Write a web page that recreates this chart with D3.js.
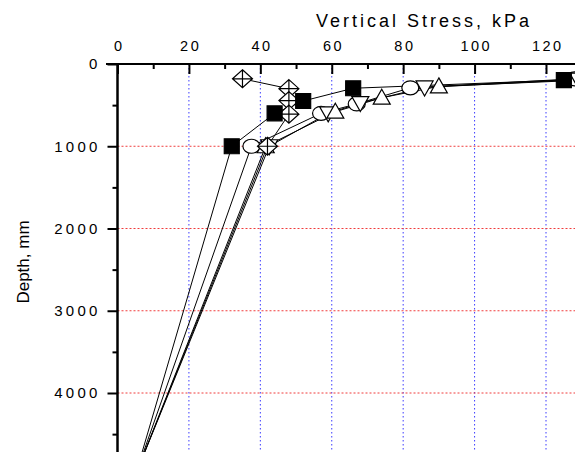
<!DOCTYPE html>
<html>
<head>
<meta charset="utf-8">
<script src="https://cdn.jsdelivr.net/npm/d3@7"></script>
<style>
  body { margin: 0; background: #fff; }
  text { font-family: Arial, "Liberation Sans", sans-serif; fill: #000; }
</style>
</head>
<body>
<div id="chart"></div>
<script>
// stress (kPa) against depth (mm), one list per gauge line
const squares    = [[125, 195], [66, 295], [52, 450], [44, 600], [32, 1000], [5, 5000]];
const circles    = [[128, 180], [82, 290], [67, 485], [57, 600], [37.5, 1000], [5, 5000]];
const trianglesU = [[131, 195], [90, 272], [74, 410], [61, 580], [41.5, 1000], [5, 5000]];
const trianglesD = [[129, 190], [86, 285], [68, 475], [59, 600], [42.5, 1000], [5, 5000]];
const diamonds   = [[35, 180], [48, 300], [48, 445], [48, 610], [42, 1000], [5, 5000]];

const xMajor = [0, 20, 40, 60, 80, 100, 120];
const xMinor = [10, 30, 50, 70, 90, 110, 130];
const yMajor = [0, 1000, 2000, 3000, 4000];
const yMinor = [500, 1500, 2500, 3500, 4500];

const W = 575, H = 452;

const svg = d3.select("#chart").append("svg")
    .attr("width", W)
    .attr("height", H);

const x = d3.scaleLinear().domain([0, 120]).range([117.5, 546]);
const y = d3.scaleLinear().domain([0, 4000]).range([64, 393]);

// grid
svg.append("g").selectAll("line")
    .data(xMajor.filter(d => d > 0))
    .enter().append("line")
    .attr("x1", d => x(d)).attr("x2", d => x(d))
    .attr("y1", y(0)).attr("y2", H)
    .attr("stroke", "#3b3bff")
    .attr("stroke-width", 1)
    .attr("stroke-dasharray", "1.5,2.5");

svg.append("g").selectAll("line")
    .data(yMajor.filter(d => d > 0))
    .enter().append("line")
    .attr("x1", x(0)).attr("x2", W)
    .attr("y1", d => y(d)).attr("y2", d => y(d))
    .attr("stroke", "#f03c3c")
    .attr("stroke-width", 1)
    .attr("stroke-dasharray", "2,2");

// axes
const xAxis = svg.append("g")
    .attr("transform", `translate(0,${y(0)})`)
    .call(d3.axisTop(x).tickValues(xMajor).tickSize(-10).tickPadding(13));
xAxis.append("g")
    .call(d3.axisTop(x).tickValues(xMinor).tickSize(-5).tickFormat(""));

const yAxis = svg.append("g")
    .attr("transform", `translate(${x(0)},0)`)
    .call(d3.axisLeft(y).tickValues(yMajor).tickSize(10).tickPadding(10).tickFormat(d3.format("d")));
yAxis.append("g")
    .call(d3.axisLeft(y).tickValues(yMinor).tickSize(5).tickFormat(""));

svg.selectAll(".domain").remove();
svg.selectAll(".tick line").attr("stroke", "#000").attr("stroke-width", 2);

xAxis.selectAll(".tick text")
    .attr("font-size", 14.5)
    .attr("letter-spacing", 2.5)
    .attr("dx", 1.25)
    .attr("font-family", "Arial, 'Liberation Sans', sans-serif");

yAxis.selectAll(".tick text")
    .attr("font-size", 15)
    .attr("letter-spacing", 3.2)
    .attr("x", -17)
    .attr("font-family", "Arial, 'Liberation Sans', sans-serif");

svg.append("line")
    .attr("x1", 106).attr("x2", W)
    .attr("y1", y(0)).attr("y2", y(0))
    .attr("stroke", "#000").attr("stroke-width", 2);
svg.append("line")
    .attr("x1", x(0)).attr("x2", x(0))
    .attr("y1", y(0)).attr("y2", H)
    .attr("stroke", "#000").attr("stroke-width", 2.5);

// titles
svg.append("text")
    .attr("x", 424).attr("y", 27)
    .attr("text-anchor", "middle")
    .attr("font-size", 18)
    .attr("letter-spacing", 3)
    .text("Vertical Stress, kPa");

svg.append("text")
    .attr("transform", "translate(29,262) rotate(-90)")
    .attr("text-anchor", "middle")
    .attr("font-size", 17)
    .text("Depth, mm");

// lines
const line = d3.line().x(d => x(d[0])).y(d => y(d[1]));
const series = [
    { data: circles, sym: "circle" },
    { data: trianglesD, sym: "triDown" },
    { data: trianglesU, sym: "triUp" },
    { data: diamonds, sym: "diamond" },
    { data: squares, sym: "square" }
];

svg.append("g").selectAll("path")
    .data(series)
    .enter().append("path")
    .attr("d", s => line(s.data))
    .attr("fill", "none")
    .attr("stroke", "#000")
    .attr("stroke-width", 1);

// markers
function symPath(sym) {
    if (sym === "square") return "M-7.5,-7.5H7.5V7.5H-7.5Z";
    if (sym === "circle") return "M-8.5,0A8.5,7,0,1,0,8.5,0A8.5,7,0,1,0,-8.5,0Z";
    if (sym === "triUp") return "M0,-8.5L8.5,6.5H-8.5Z";
    if (sym === "triDown") return "M0,8.5L8.5,-6.5H-8.5Z";
    return "M0,-9L10,0L0,9L-10,0Z M0,-9V9 M-10,0H10";
}

series.forEach(s => {
    svg.append("g").selectAll("path")
        .data(s.data.filter(d => d[1] < 4800))
        .enter().append("path")
        .attr("transform", d => `translate(${x(d[0])},${y(d[1])})`)
        .attr("d", symPath(s.sym))
        .attr("fill", s.sym === "square" ? "#000" : "#fff")
        .attr("stroke", "#000")
        .attr("stroke-width", 1.2);
});
</script>
</body>
</html>
